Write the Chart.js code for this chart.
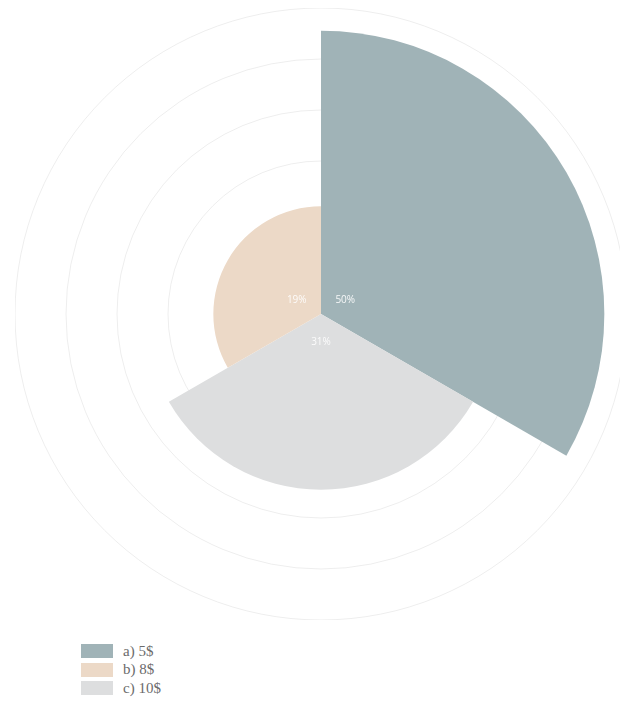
<!DOCTYPE html>
<html>
<head>
<meta charset="utf-8">
<script src="https://cdn.jsdelivr.net/npm/chart.js@4/dist/chart.umd.min.js"></script>
<style>
  html, body { margin: 0; padding: 0; background: #fff; overflow: hidden; }
  body { width: 620px; height: 727px; position: relative; }
  .chart-wrap { position: absolute; left: 15px; top: 8px; width: 612px; height: 612px; }
  .legend { position: absolute; left: 81px; top: 642px; font-family: "Liberation Serif", serif; font-size: 15px; color: #6b6b6b; }
  .legend-item { display: flex; align-items: center; height: 18.5px; }
  .legend-box { width: 32px; height: 14px; margin-right: 10px; }
</style>
</head>
<body>
<div class="chart-wrap"><canvas id="myChart"></canvas></div>
<div class="legend" id="legend"></div>
<script>
// slices in clockwise order starting at 12 o'clock
const categories = ['a) 5$', 'c) 10$', 'b) 8$'];
const shares = [50, 31, 19];
const colors = ['rgb(160, 179, 183)', 'rgb(221, 222, 223)', 'rgb(236, 217, 199)'];

// white percentage text near the middle of each slice
const sliceLabels = {
    id: 'sliceLabels',
    afterDatasetsDraw(chart) {
        const ctx = chart.ctx;
        const meta = chart.getDatasetMeta(0);
        ctx.save();
        ctx.font = '10px "Open Sans", sans-serif';
        ctx.fillStyle = 'rgba(255, 255, 255, 0.9)';
        ctx.textAlign = 'center';
        ctx.textBaseline = 'middle';
        meta.data.forEach((arc, i) => {
            const { x, y, startAngle, endAngle } = arc.getProps(['x', 'y', 'startAngle', 'endAngle'], true);
            const mid = (startAngle + endAngle) / 2;
            ctx.fillText(shares[i] + '%', x + Math.cos(mid) * 28, y + Math.sin(mid) * 28);
        });
        ctx.restore();
    }
};

const chart = new Chart(document.getElementById('myChart'), {
    type: 'polarArea',
    data: {
        labels: categories,
        datasets: [{
            data: shares,
            backgroundColor: colors,
            borderWidth: 0
        }]
    },
    options: {
        responsive: true,
        maintainAspectRatio: false,
        animation: false,
        layout: { padding: 0 },
        plugins: {
            legend: { display: false },
            tooltip: { enabled: false }
        },
        scales: {
            r: {
                z: 1,
                min: 0,
                max: 54,
                ticks: { display: false, stepSize: 9 },
                grid: { color: 'rgba(0, 0, 0, 0.07)', lineWidth: 1 },
                angleLines: { display: false },
                pointLabels: { display: false }
            }
        }
    },
    plugins: [sliceLabels]
});

// legend listed alphabetically
const legend = document.getElementById('legend');
categories
    .map((c, i) => ({ text: c, color: colors[i] }))
    .sort((a, b) => a.text.localeCompare(b.text))
    .forEach(item => {
        const row = document.createElement('div');
        row.className = 'legend-item';
        row.innerHTML = '<span class="legend-box" style="background:' + item.color + '"></span>' + item.text;
        legend.appendChild(row);
    });
</script>
</body>
</html>
